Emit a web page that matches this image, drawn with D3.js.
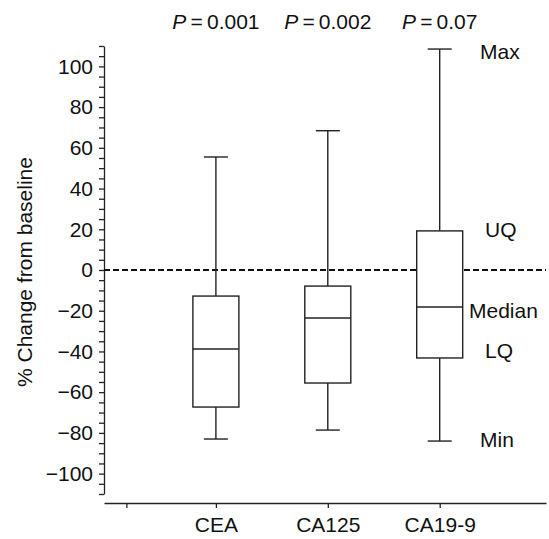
<!DOCTYPE html>
<html>
<head>
<meta charset="utf-8">
<script src="https://cdn.jsdelivr.net/npm/d3@7"></script>
<style>
  body { margin: 0; background: #fff; }
  svg { font-family: "Liberation Sans", Arial, sans-serif; }
</style>
</head>
<body>
<svg id="chart"></svg>
<script>
// box plot values (% change from baseline)
const markers = ["CEA", "CA125", "CA19-9"];
const maxVals = [55.5, 68.4, 108.5];
const uqVals = [-12.8, -7.9, 19.2];
const medianVals = [-38.8, -23.6, -18.2];
const lqVals = [-67.3, -55.5, -43.2];
const minVals = [-83, -78.6, -84];
const pValues = ["0.001", "0.002", "0.07"];

// legend labels on the right, with the value they sit next to
const keyLabels = ["Max", "UQ", "Median", "LQ", "Min"];
const keyValues = [107, 20, -20, -39.5, -83.5];

const yTicks = d3.range(-110, 111, 5);
const xTicks = [0.2, 1, 2, 3];

const width = 549, height = 539;
const svg = d3.select("#chart").attr("width", width).attr("height", height);

const x = d3.scaleLinear().domain([0, 3.95]).range([104, 546]);
const y = d3.scaleLinear().domain([-110, 110]).range([494, 46]);

const fontSize = 21;
const ink = "#222";

// y axis
const yAxis = svg.append("g")
    .attr("transform", `translate(${x(0)},0)`)
    .call(d3.axisLeft(y)
        .tickValues(yTicks)
        .tickSize(5)
        .tickSizeOuter(0)
        .tickPadding(6)
        .tickFormat(d => (d % 20 === 0 && Math.abs(d) <= 100) ? d3.format("")(d) : ""));

yAxis.selectAll("text").attr("font-size", fontSize).attr("fill", "#111").attr("font-family", null);
yAxis.selectAll("line, path").attr("stroke", ink).attr("stroke-width", 1.3);

// x axis
const xAxis = svg.append("g")
    .attr("transform", "translate(0,503)")
    .call(d3.axisBottom(x)
        .tickValues(xTicks)
        .tickSize(5)
        .tickSizeOuter(0)
        .tickPadding(9)
        .tickFormat(d => d >= 1 ? markers[d - 1] : ""));

xAxis.selectAll("text").attr("font-size", fontSize).attr("fill", "#111").attr("font-family", null);
xAxis.selectAll("line, path").attr("stroke", ink).attr("stroke-width", 1.3);

// baseline at 0
svg.append("line")
    .attr("x1", x(0)).attr("x2", x(3.95))
    .attr("y1", y(0)).attr("y2", y(0))
    .attr("stroke", "#111")
    .attr("stroke-width", 1.8)
    .attr("stroke-dasharray", "6,3");

// boxes
const boxW = 46, capW = 24;
const boxes = svg.append("g")
    .selectAll("g")
    .data(markers.map((m, i) => ({
        pos: i + 1, max: maxVals[i], uq: uqVals[i], med: medianVals[i], lq: lqVals[i], min: minVals[i]
    })))
    .join("g")
    .attr("stroke", ink)
    .attr("stroke-width", 1.4)
    .attr("fill", "none");

boxes.append("line")
    .attr("x1", d => x(d.pos)).attr("x2", d => x(d.pos))
    .attr("y1", d => y(d.max)).attr("y2", d => y(d.uq));
boxes.append("line")
    .attr("x1", d => x(d.pos)).attr("x2", d => x(d.pos))
    .attr("y1", d => y(d.lq)).attr("y2", d => y(d.min));
boxes.append("line")
    .attr("x1", d => x(d.pos) - capW / 2).attr("x2", d => x(d.pos) + capW / 2)
    .attr("y1", d => y(d.max)).attr("y2", d => y(d.max));
boxes.append("line")
    .attr("x1", d => x(d.pos) - capW / 2).attr("x2", d => x(d.pos) + capW / 2)
    .attr("y1", d => y(d.min)).attr("y2", d => y(d.min));
boxes.append("rect")
    .attr("x", d => x(d.pos) - boxW / 2)
    .attr("width", boxW)
    .attr("y", d => y(d.uq))
    .attr("height", d => y(d.lq) - y(d.uq))
    .attr("fill", "#fff");
boxes.append("line")
    .attr("x1", d => x(d.pos) - boxW / 2).attr("x2", d => x(d.pos) + boxW / 2)
    .attr("y1", d => y(d.med)).attr("y2", d => y(d.med));

// P values on top
const pText = svg.append("g")
    .selectAll("text")
    .data(pValues)
    .join("text")
    .attr("x", (d, i) => x(i + 1))
    .attr("y", 22)
    .attr("dy", "0.35em")
    .attr("text-anchor", "middle")
    .attr("font-size", fontSize)
    .attr("fill", "#111");
pText.append("tspan").attr("font-style", "italic").text("P");
pText.append("tspan").text(d => "\u2009=\u2009" + d);

// key labels for the parts of the box
svg.append("g")
    .selectAll("text")
    .data(keyLabels)
    .join("text")
    .attr("x", d => d === "Median" ? 469 : (d === "Max" || d === "Min") ? 480 : 485)
    .attr("y", (d, i) => y(keyValues[i]))
    .attr("dy", "0.35em")
    .attr("font-size", fontSize)
    .attr("fill", "#111")
    .text(d => d);

// y axis title
svg.append("text")
    .attr("transform", `translate(25,${y(-1)}) rotate(-90)`)
    .attr("dy", "0.35em")
    .attr("text-anchor", "middle")
    .attr("font-size", fontSize)
    .attr("fill", "#111")
    .text("% Change from baseline");
</script>
</body>
</html>
